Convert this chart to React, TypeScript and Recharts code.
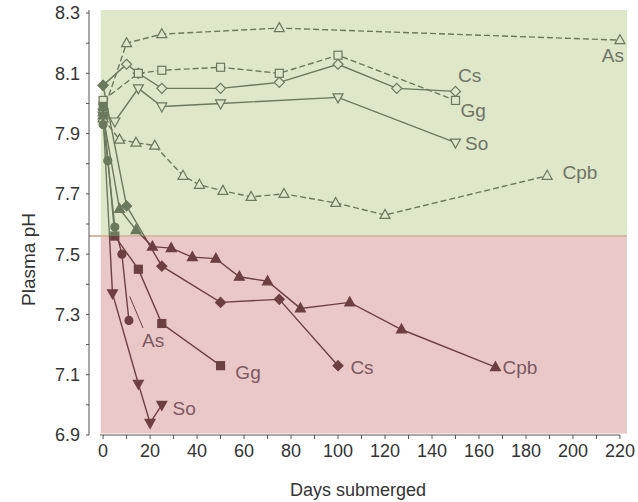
import React from "react";
import {
  LineChart,
  Line,
  XAxis,
  YAxis,
  ReferenceArea,
  ReferenceLine,
  ReferenceDot,
} from "recharts";

// [day, pH] pairs
const asOpen = [[0, 7.97], [10, 8.2], [25, 8.23], [75, 8.25], [220, 8.21]];
const csOpen = [[0, 8.06], [10, 8.13], [15, 8.1], [25, 8.05], [50, 8.05], [75, 8.07], [100, 8.13], [125, 8.05], [150, 8.04]];
const ggOpen = [[0, 8.01], [15, 8.1], [25, 8.11], [50, 8.12], [75, 8.1], [100, 8.16], [150, 8.01]];
const soOpen = [[0, 7.97], [5, 7.94], [15, 8.05], [25, 7.99], [50, 8.0], [100, 8.02], [150, 7.87]];
const cpbOpen = [[0, 7.95], [7, 7.88], [14, 7.87], [22, 7.86], [34, 7.76], [41, 7.73], [51, 7.71], [63, 7.69], [77, 7.7], [99, 7.67], [120, 7.63], [189, 7.76]];

const asFilled = [[0, 7.93], [2, 7.81], [5, 7.59], [8, 7.5], [11, 7.28]];
const csFilled = [[0, 8.06], [10, 7.66], [25, 7.46], [50, 7.34], [75, 7.35], [100, 7.13]];
const ggFilled = [[0, 7.99], [5, 7.56], [15, 7.45], [25, 7.27], [50, 7.13]];
const soFilled = [[0, 7.96], [4, 7.37], [15, 7.07], [20, 6.94], [25, 7.0]];
const cpbFilled = [[0, 7.96], [7, 7.65], [14, 7.58], [21, 7.525], [29, 7.52], [38, 7.49], [48, 7.485], [58, 7.425], [70, 7.41], [84, 7.32], [105, 7.34], [127, 7.25], [167, 7.125]];

const xTicks = [0, 10, 20, 30, 40, 50, 60, 70, 80, 90, 100, 110, 120, 130, 140, 150, 160, 170, 180, 190, 200, 210, 220];
const yTicks = [6.9, 7.0, 7.1, 7.2, 7.3, 7.4, 7.5, 7.6, 7.7, 7.8, 7.9, 8.0, 8.1, 8.2, 8.3];

const THRESHOLD = 7.56;

// [text, day, pH]
const upperLabels = [["As", 217, 8.16], ["Cs", 156, 8.094], ["Gg", 157.5, 7.978], ["So", 159, 7.869], ["Cpb", 203, 7.772]];
const lowerLabels = [["As", 21.3, 7.215], ["Gg", 61.7, 7.109], ["So", 34.5, 6.989], ["Cs", 110.2, 7.126], ["Cpb", 177.4, 7.126]];

const W = 638;
const H = 502;
const M = { top: 10, right: 11, bottom: 0, left: 0 };
const Y_AXIS_W = 89;
const X_AXIS_H = 67;
const Y_DOMAIN = [6.9, 8.31];
const plotH = H - M.top - M.bottom - X_AXIS_H;
const splitY = M.top + ((Y_DOMAIN[1] - THRESHOLD) / (Y_DOMAIN[1] - Y_DOMAIN[0])) * plotH;

const GREEN = "#dfe7c9";
const RED = "#ebc8c8";
const INK_TOP = "#6a785c";
const INK_BOTTOM = "#6c4040";

const toRows = (pairs: number[][]) => pairs.map(([d, v]) => ({ d, v }));

function Marker(props: any) {
  const { cx, cy, shape, filled } = props;
  if (cx == null || cy == null) return null;
  const fill = filled ? "url(#inkGrad)" : "url(#bgGrad)";
  const common = { fill, stroke: "url(#inkGrad)", strokeWidth: 1.2 };
  if (shape === "tri")
    return <polygon {...common} points={`${cx},${cy - 5.5} ${cx - 5},${cy + 3.5} ${cx + 5},${cy + 3.5}`} />;
  if (shape === "inv")
    return <polygon {...common} points={`${cx},${cy + 5.5} ${cx - 5},${cy - 3.5} ${cx + 5},${cy - 3.5}`} />;
  if (shape === "sq") return <rect {...common} x={cx - 4} y={cy - 4} width={8} height={8} />;
  if (shape === "dia")
    return <polygon {...common} points={`${cx},${cy - 5} ${cx + 5},${cy} ${cx},${cy + 5} ${cx - 5},${cy}`} />;
  return <circle {...common} cx={cx} cy={cy} r={4} />;
}

const series = [
  { id: "asO", data: asOpen, shape: "tri", filled: false, dashed: true },
  { id: "csO", data: csOpen, shape: "dia", filled: false, dashed: false },
  { id: "ggO", data: ggOpen, shape: "sq", filled: false, dashed: true },
  { id: "soO", data: soOpen, shape: "inv", filled: false, dashed: false },
  { id: "cpbO", data: cpbOpen, shape: "tri", filled: false, dashed: true },
  { id: "asF", data: asFilled, shape: "dot", filled: true, dashed: false },
  { id: "csF", data: csFilled, shape: "dia", filled: true, dashed: false },
  { id: "ggF", data: ggFilled, shape: "sq", filled: true, dashed: false },
  { id: "soF", data: soFilled, shape: "inv", filled: true, dashed: false },
  { id: "cpbF", data: cpbFilled, shape: "tri", filled: true, dashed: false },
];

export default function App() {
  const off = splitY / H;
  return (
    <div style={{ position: "absolute", left: 0, top: 0, fontFamily: "'Liberation Sans', Arial, sans-serif" }}>
      <svg width={0} height={0} style={{ position: "absolute" }}>
        <defs>
          <linearGradient id="inkGrad" gradientUnits="userSpaceOnUse" x1={0} y1={0} x2={0} y2={H}>
            <stop offset={off} stopColor={INK_TOP} />
            <stop offset={off} stopColor={INK_BOTTOM} />
          </linearGradient>
          <linearGradient id="bgGrad" gradientUnits="userSpaceOnUse" x1={0} y1={0} x2={0} y2={H}>
            <stop offset={off} stopColor={GREEN} />
            <stop offset={off} stopColor={RED} />
          </linearGradient>
        </defs>
      </svg>
      <LineChart width={W} height={H} margin={M}>
        <ReferenceArea x1={-1} x2={223} y1={THRESHOLD} y2={8.31} fill={GREEN} fillOpacity={1} stroke="none" />
        <ReferenceArea x1={-1} x2={223} y1={6.905} y2={THRESHOLD} fill={RED} fillOpacity={1} stroke="none" />
        <ReferenceLine y={THRESHOLD} segment={[{ x: -1, y: THRESHOLD }, { x: 223, y: THRESHOLD }]} stroke="#d6b8a4" strokeWidth={2} />
        <XAxis
          dataKey="d"
          type="number"
          domain={[-6, 223]}
          allowDataOverflow
          ticks={xTicks}
          interval={0}
          tickFormatter={(v: number) => (v % 20 === 0 ? String(v) : "")}
          axisLine={false}
          tickLine={{ stroke: "#555" }}
          tickSize={4}
          tickMargin={5}
          tick={{ fill: "#333", fontSize: 18 }}
          height={X_AXIS_H}
          label={{ value: "Days submerged", position: "insideBottom", offset: 6, fill: "#333", fontSize: 18 }}
        />
        <YAxis
          type="number"
          domain={Y_DOMAIN}
          allowDataOverflow
          ticks={yTicks}
          interval={0}
          tickFormatter={(v: number) => (Math.round(v * 10) % 2 === 1 ? v.toFixed(1) : "")}
          axisLine={{ stroke: "#555" }}
          tickLine={{ stroke: "#555" }}
          tickSize={3}
          tickMargin={6}
          tick={{ fill: "#333", fontSize: 18 }}
          width={Y_AXIS_W}
          label={{
            content: ({ viewBox }: any) => {
              const x = viewBox.x + 28;
              const y = viewBox.y + viewBox.height / 2 + 37;
              return (
                <text x={x} y={y} fill="#333" fontSize={19} textAnchor="middle" dominantBaseline="central" transform={`rotate(-90 ${x} ${y})`}>
                  Plasma pH
                </text>
              );
            },
          }}
        />
        <ReferenceLine segment={[{ x: -1.3, y: 6.9 }, { x: 220, y: 6.9 }]} stroke="#555" />
        <ReferenceLine segment={[{ x: 17, y: 7.255 }, { x: 11.3, y: 7.36 }]} stroke={INK_BOTTOM} strokeWidth={1} />
        {series.map((s) => (
          <Line
            key={s.id}
            name={s.id}
            data={toRows(s.data)}
            dataKey="v"
            type="linear"
            stroke="url(#inkGrad)"
            strokeWidth={1.4}
            strokeDasharray={s.dashed ? "6 3" : undefined}
            dot={(p: any) => <Marker key={`${s.id}-${p.index}`} cx={p.cx} cy={p.cy} shape={s.shape} filled={s.filled} />}
            activeDot={false}
            isAnimationActive={false}
          />
        ))}
        {upperLabels.map(([t, x, y]) => (
          <ReferenceDot
            key={`u-${t}`}
            x={x as number}
            y={y as number}
            r={0}
            stroke="none"
            label={{ value: t as string, position: "center", fill: "#6e7466", fontSize: 19 }}
          />
        ))}
        {lowerLabels.map(([t, x, y]) => (
          <ReferenceDot
            key={`l-${t}`}
            x={x as number}
            y={y as number}
            r={0}
            stroke="none"
            label={{ value: t as string, position: "center", fill: "#7b5862", fontSize: 19 }}
          />
        ))}
      </LineChart>
    </div>
  );
}
